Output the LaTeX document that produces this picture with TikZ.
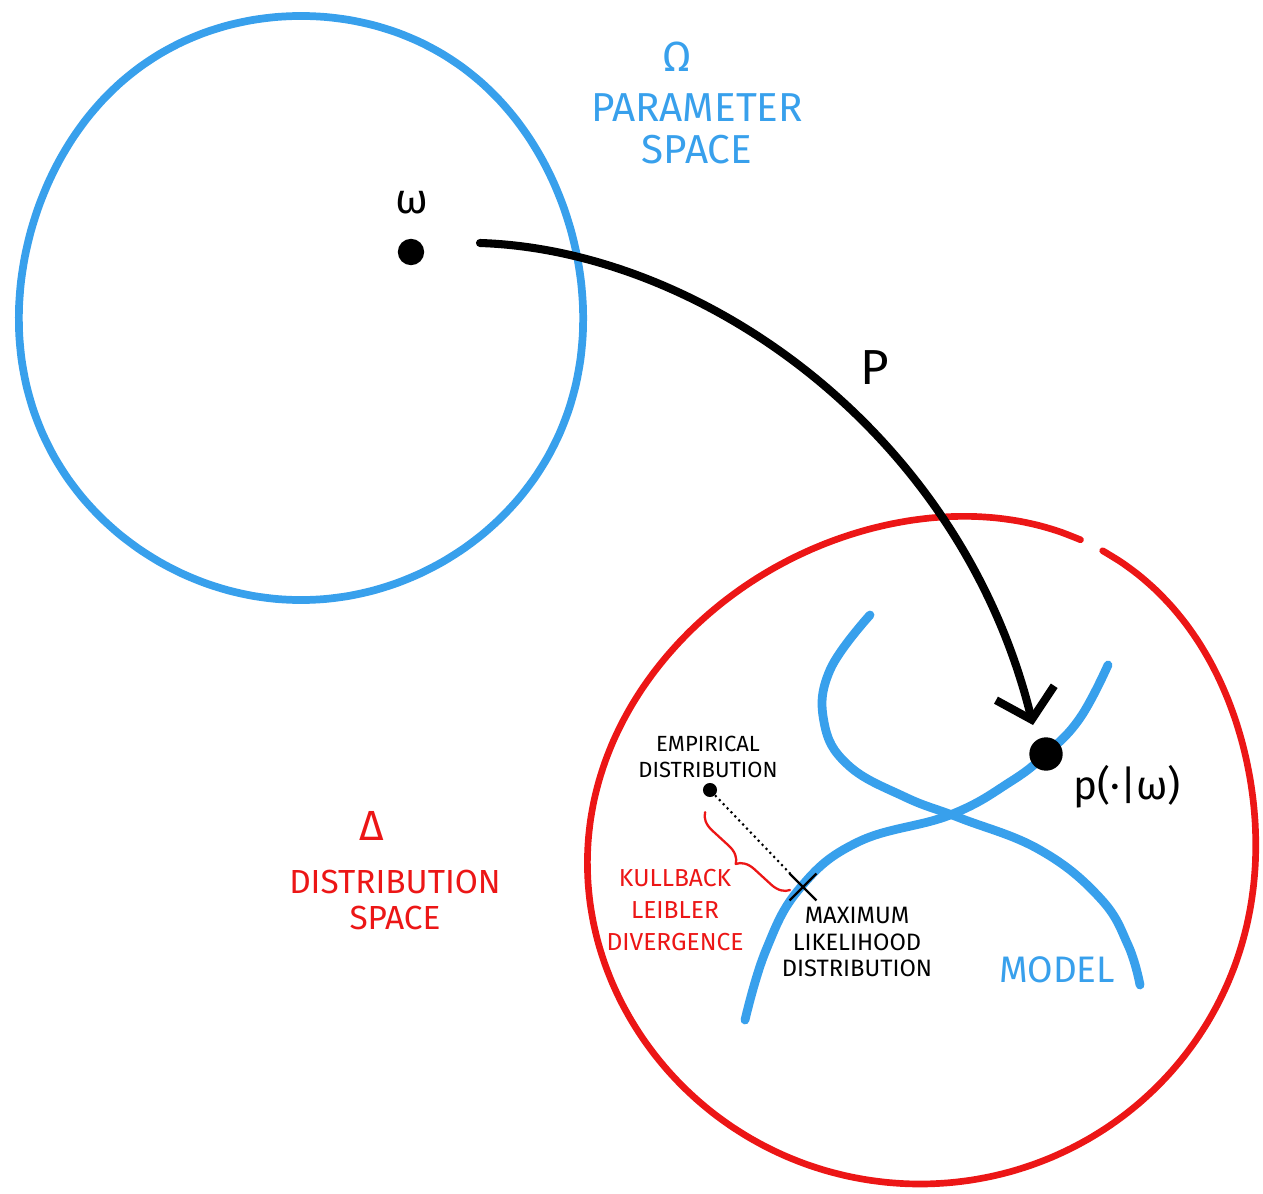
\documentclass[tikz,border=0pt]{standalone}
\usepackage{fontspec}
\setmainfont{Fira Sans}
\usetikzlibrary{arrows.meta,decorations.pathreplacing,shapes.misc}
\definecolor{skyblue}{RGB}{56,160,236}
\definecolor{penred}{RGB}{236,22,22}
\tikzset{
  hand/.style={line cap=round, line join=round},
  bluetxt/.style={text=skyblue, align=center, inner sep=0pt},
  redtxt/.style={text=penred, align=center, inner sep=0pt},
  blktxt/.style={text=black, align=center, inner sep=0pt},
  pdot/.style={circle, fill=black, inner sep=0pt},
}
\begin{document}
\begin{tikzpicture}[x=0.02cm, y=-0.02cm]
  \useasboundingbox (0,0) rectangle (1263,1193);

  \draw[hand, skyblue, line width=4.4pt] plot[smooth cycle, domain=0:355, samples=72]
    ({301+282*cos(\x)*(1+0.012*sin(3*\x))}, {308+295*sin(\x)*(1+0.01*cos(2*\x))});
  \draw[hand, penred, line width=3.8pt] plot[smooth, domain=301:657, samples=100]
    ({920+335*cos(\x)*(1+0.06*max(0.001,cos(\x-305))^6-0.045*max(0.001,cos(\x-230))^4)},
     {852+332*sin(\x)*(1+0.06*max(0.001,cos(\x-305))^6-0.045*max(0.001,cos(\x-230))^4)});

  \draw[hand, skyblue, line width=5pt] plot[smooth, tension=0.7] coordinates {
    (870,615) (830,670) (824,722) (848,765) (905,797) (960,818)
    (1040,850) (1100,898) (1128,945) (1140,985)};
  \draw[hand, skyblue, line width=5pt] plot[smooth, tension=0.7] coordinates {
    (745,1020) (766,950) (800,888) (858,842) (950,815) (1010,782)
    (1046,754) (1080,718) (1108,665)};

  \node[pdot, minimum size=15] (w) at (411,252) {};
  \node[blktxt, font=\fontsize{24}{26}\selectfont] (wl) at (412,203) {ω};
  \node[pdot, minimum size=19] (pw) at (1046,754) {};
  \node[blktxt, font=\fontsize{23}{26}\selectfont] (pwl) at (1127,787) {p(·|ω)};
  \node[blktxt, font=\fontsize{28}{30}\selectfont] (p) at (875,368) {P};

  \coordinate (a) at (480,243);
  \coordinate (b) at (1033,725);
  \draw[hand, line width=4.6pt, -{Straight Barb[length=5.5mm, width=12mm]}]
    (a) .. controls (700,250) and (960,430) .. (b);

  \node[bluetxt, font=\fontsize{24}{26}\selectfont] (om) at (677,57) {Ω};
  \node[bluetxt, font=\fontsize{23}{24}\selectfont] (ps) at (697,129) {PARAMETER\\SPACE};
  \node[redtxt, font=\fontsize{24}{26}\selectfont] (dl) at (372,826) {Δ};
  \node[redtxt, font=\fontsize{19}{20}\selectfont] (ds) at (395,900) {DISTRIBUTION\\SPACE};
  \node[bluetxt, font=\fontsize{21}{22}\selectfont] (model) at (1057,970) {MODEL};

  \node[blktxt, font=\fontsize{12.5}{15}\selectfont] (empl) at (708,757) {EMPIRICAL\\DISTRIBUTION};
  \node[pdot, minimum size=8] (emp) at (710,790) {};
  \node[cross out, draw, line width=1.3pt, minimum size=14, inner sep=0pt] (mle) at (803,887) {};
  \node[blktxt, font=\fontsize{13.5}{15.3}\selectfont] (mlel) at (857,942) {MAXIMUM\\LIKELIHOOD\\DISTRIBUTION};
  \node[redtxt, font=\fontsize{14}{18}\selectfont] (kl) at (675,910) {KULLBACK\\LEIBLER\\DIVERGENCE};

  \draw[line width=1.2pt, dotted] (emp) -- (mle);
  \draw[hand, penred, line width=1.3pt, decorate, decoration={brace, amplitude=0.35cm}]
    (790,890) -- (705,812);
\end{tikzpicture}
\end{document}
